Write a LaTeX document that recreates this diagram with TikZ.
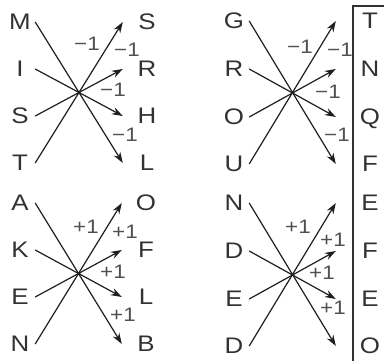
\documentclass[tikz,border=0pt]{standalone}
\usepackage{fontspec}
\setmainfont{Liberation Sans}[FakeStretch=1.15]
\usepackage{tikz}
\usetikzlibrary{arrows.meta}
\usepackage{xcolor}
\definecolor{codeink} {RGB}{50 , 50 , 50}
\definecolor{codeline}{RGB}{30 , 30 , 30}
\definecolor{codegray}{RGB}{80 , 80 , 80}

\begin{document}
\begin{tikzpicture}[
  x=1pt, y=-1pt,
  letter/.style={font=\fontsize{22.5}{22.5}\selectfont, text=codeink, minimum width=30pt,
    inner sep=0pt, text height=16pt, text depth=0pt},
  offset/.style={font=\fontsize{19.5}{19.5}\selectfont, text=codegray, inner sep=0pt},
  arrow/.style={-{Stealth[length=11pt, width=7.5pt]}, line width=1.2pt, draw=codeline},
  frame/.style={line width=1.2pt, draw=codeink}
]
  \useasboundingbox (0,0) rectangle (384,361);

  % Top left: MIST -> SRHL
  \node (a1) [letter] at (20,22) {M};
  \node (a2) [letter] at (20,69) {I};
  \node (a3) [letter] at (20,116) {S};
  \node (a4) [letter] at (20,163) {T};
  \node (a1r) [letter] at (147,22) {S};
  \node (a2r) [letter] at (147,69) {R};
  \node (a3r) [letter] at (147,116) {H};
  \node (a4r) [letter] at (147,163) {L};

  % Top right: GROU -> TNQF
  \node (b1) [letter] at (234,21) {G};
  \node (b2) [letter] at (234,69) {R};
  \node (b3) [letter] at (234,117) {O};
  \node (b4) [letter] at (234,164) {U};
  \node (b1r) [letter] at (370,21) {T};
  \node (b2r) [letter] at (370,69) {N};
  \node (b3r) [letter] at (370,117) {Q};
  \node (b4r) [letter] at (370,164) {F};

  % Bottom left: AKEN -> OFLB
  \node (c1) [letter] at (20,203) {A};
  \node (c2) [letter] at (20,250) {K};
  \node (c3) [letter] at (20,297) {E};
  \node (c4) [letter] at (20,344) {N};
  \node (c1r) [letter] at (146,203) {O};
  \node (c2r) [letter] at (146,250) {F};
  \node (c3r) [letter] at (146,297) {L};
  \node (c4r) [letter] at (146,344) {B};

  % Bottom right: NDED -> EFEO
  \node (d1) [letter] at (234,203) {N};
  \node (d2) [letter] at (234,251) {D};
  \node (d3) [letter] at (234,299) {E};
  \node (d4) [letter] at (234,346) {D};
  \node (d1r) [letter] at (370,203) {E};
  \node (d2r) [letter] at (370,251) {F};
  \node (d3r) [letter] at (370,299) {E};
  \node (d4r) [letter] at (370,346) {O};

  % Offsets
  \node (a1s) [offset] at (87,44) {−1};
  \node (a2s) [offset] at (127,50) {−1};
  \node (a3s) [offset] at (113,90) {−1};
  \node (a4s) [offset] at (125,135) {−1};
  \node (b1s) [offset] at (300,47) {−1};
  \node (b2s) [offset] at (340,50) {−1};
  \node (b3s) [offset] at (328,92) {−1};
  \node (b4s) [offset] at (337,135) {−1};
  \node (c1s) [offset] at (86,227) {+1};
  \node (c2s) [offset] at (125,232) {+1};
  \node (c3s) [offset] at (113,272) {+1};
  \node (c4s) [offset] at (123,315) {+1};
  \node (d1s) [offset] at (298,227) {+1};
  \node (d2s) [offset] at (333,240) {+1};
  \node (d3s) [offset] at (322,273) {+1};
  \node (d4s) [offset] at (333,308) {+1};

  % Paths
  \draw [arrow] (a1.east) -- ([xshift=-9pt]a4r.west);
  \draw [arrow] (a2.east) -- ([xshift=-9pt]a3r.west);
  \draw [arrow] (a3.east) -- ([xshift=-9pt]a2r.west);
  \draw [arrow] (a4.east) -- ([xshift=-9pt]a1r.west);
  \draw [arrow] (b1.east) -- ([xshift=-19pt]b4r.west);
  \draw [arrow] (b2.east) -- ([xshift=-19pt]b3r.west);
  \draw [arrow] (b3.east) -- ([xshift=-19pt]b2r.west);
  \draw [arrow] (b4.east) -- ([xshift=-19pt]b1r.west);
  \draw [arrow] (c1.east) -- ([xshift=-9pt]c4r.west);
  \draw [arrow] (c2.east) -- ([xshift=-9pt]c3r.west);
  \draw [arrow] (c3.east) -- ([xshift=-9pt]c2r.west);
  \draw [arrow] (c4.east) -- ([xshift=-9pt]c1r.west);
  \draw [arrow] (d1.east) -- ([xshift=-19pt]d4r.west);
  \draw [arrow] (d2.east) -- ([xshift=-19pt]d3r.west);
  \draw [arrow] (d3.east) -- ([xshift=-19pt]d2r.west);
  \draw [arrow] (d4.east) -- ([xshift=-19pt]d1r.west);

  % Crossings
  \fill [codeline] (79,92.5) circle (1.4pt);
  \fill [codeline] (292.5,92.5) circle (1.4pt);
  \fill [codeline] (79,273.5) circle (1.4pt);
  \fill [codeline] (292.5,274.5) circle (1.4pt);

  % Answer column
  \draw [frame] (353,361) -- (353,6) -- (384,6);
\end{tikzpicture}
\end{document}
